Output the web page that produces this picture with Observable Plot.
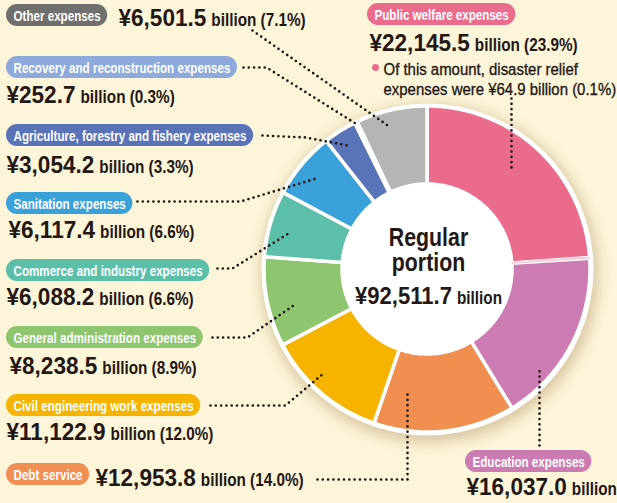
<!DOCTYPE html>
<html><head><meta charset="utf-8">
<script src="https://cdn.jsdelivr.net/npm/d3@7"></script>
<script src="https://cdn.jsdelivr.net/npm/@observablehq/plot@0.6"></script>
<style>
html,body{margin:0;padding:0;background:#fdf5da;}
#chart{width:617px;height:503px;overflow:hidden;}
</style></head><body><div id="chart"></div>
<script>
// ---- data ----
const categories = ["Public welfare expenses", "Education expenses", "Debt service", "Civil engineering work expenses", "General administration expenses", "Commerce and industry expenses", "Sanitation expenses", "Agriculture, forestry and fishery expenses", "Recovery and reconstruction expenses", "Other expenses"];
const amounts = [22145.5, 16037.0, 12953.8, 11122.9, 8238.5, 6088.2, 6117.4, 3054.2, 252.7, 6501.5];
const shares = [23.9, 17.3, 14.0, 12.0, 8.9, 6.6, 6.6, 3.3, 0.3, 7.1];
const disasterReliefAmount = 64.9;
const disasterReliefShare = 0.1;
const totalLabel = "Regular portion";
const totalAmount = 92511.7;
const sliceColors = ["#ea6b8c", "#cc7bb3", "#f08f50", "#f6b400", "#8dc66e", "#5cbfaa", "#3aa1db", "#5a74ba", "#8eaadc", "#b4b5b5"];
const pillColors  = ["#ea6b8c", "#cc7bb3", "#f09055", "#f6b400", "#8dc66e", "#5cbfaa", "#3aa1db", "#5a72b8", "#8eaadc", "#6f6f6f"];
const disasterColor = "#f6c4d1";

// ---- layout (positions only) ----
const cx = 427, cy = 269, rOuter = 163, rInner = 85, rDisk = 166;
const labelLayout = [
  {pillX: 367, pillY: 3,   valueX: 369, valueY: 50},
  {pillX: 465, pillY: 450, valueX: 466, valueY: 494},
  {pillX: 6,   pillY: 463, valueX: 95,  valueY: 485},
  {pillX: 6,   pillY: 394, valueX: 6,   valueY: 439},
  {pillX: 6,   pillY: 326, valueX: 9,   valueY: 373},
  {pillX: 6,   pillY: 259, valueX: 6,   valueY: 304},
  {pillX: 6,   pillY: 192, valueX: 8,   valueY: 237},
  {pillX: 6,   pillY: 124, valueX: 6,   valueY: 172},
  {pillX: 6,   pillY: 56,  valueX: 6,   valueY: 102},
  {pillX: 6,   pillY: 4,   valueX: 118, valueY: 25}
];
const leaderPaths = [
  [[511, 98], [511, 167]],
  [[539, 445], [539, 367]],
  [[317, 479], [407, 479], [407, 392]],
  [[210, 405], [285, 405], [323, 373]],
  [[212, 337], [247, 337], [293, 305]],
  [[217, 268], [232, 268], [288, 233]],
  [[137, 201], [240, 201], [316, 178]],
  [[262, 135], [305, 137], [347, 145]],
  [[243, 67], [266, 67], [355, 123]],
  [[252, 30], [390, 127]]
];

const SANS = "'Liberation Sans', Arial, Helvetica, sans-serif";
const INK = "#231815";
// horizontal condensing per text mark, in mark order (font has no condensed face)
const squeezeOrder = ["pill-text", "num", "unit", "note", "center-title", "center-num", "center-unit"];
const squeeze = {"pill-text": 0.83, "num": 0.94, "unit": 0.85, "note": 0.88, "center-title": 0.82, "center-num": 0.92, "center-unit": 0.85};

const ctx = document.createElement("canvas").getContext("2d");
function tw(text, font, group) { ctx.font = font; return ctx.measureText(text).width * (squeeze[group] || 1); }
const fmtAmt = d3.format(",.1f");
const fmtPct = d3.format(".1f");

// ---- donut slices ----
const pieInput = [
  {key: categories[0], value: amounts[0] - disasterReliefAmount, color: sliceColors[0]},
  {key: "disaster", value: disasterReliefAmount, color: disasterColor},
  ...categories.slice(1).map((c, i) => ({key: c, value: amounts[i + 1], color: sliceColors[i + 1]}))
];
const arcs = d3.pie().sort(null).value(d => d.value)(pieInput);
const arcRows = [];
for (const a of arcs) {
  const steps = Math.max(2, Math.ceil((a.endAngle - a.startAngle) / (Math.PI / 180)));
  for (let k = 0; k <= steps; k++) {
    const t = a.startAngle + (a.endAngle - a.startAngle) * k / steps;
    arcRows.push({key: a.data.key, color: a.data.color,
      x1: cx + rInner * Math.sin(t), y1: cy - rInner * Math.cos(t),
      x2: cx + rOuter * Math.sin(t), y2: cy - rOuter * Math.cos(t)});
  }
}

// ---- labels ----
const PILL_FONT = `bold 14px ${SANS}`;
const NUM_FONT = `bold 24px ${SANS}`;
const pills = categories.map((c, i) => {
  const L = labelLayout[i];
  const w = tw(c, PILL_FONT, "pill-text");
  return {label: c, color: pillColors[i], x1: L.pillX, x2: L.pillX + w + 14, y1: L.pillY, y2: L.pillY + 22, tx: L.pillX + 7, ty: L.pillY + 16};
});
const valueMain = categories.map((c, i) => ({text: "¥" + fmtAmt(amounts[i]), x: labelLayout[i].valueX, y: labelLayout[i].valueY}));
const valueUnit = categories.map((c, i) => ({text: `billion (${fmtPct(shares[i])}%)`, x: labelLayout[i].valueX + tw(valueMain[i].text, NUM_FONT, "num") + 5, y: labelLayout[i].valueY}));
const noteLines = [
  {text: "Of this amount, disaster relief", x: 383, y: 74},
  {text: `expenses were ¥${fmtPct(disasterReliefAmount)} billion (${fmtPct(disasterReliefShare)}%)`, x: 383, y: 94}
];
const leaderRows = leaderPaths.flatMap((p, i) => p.map(([x, y]) => ({id: i, x, y})));

// center label
const cNum = "¥" + fmtAmt(totalAmount);
const cW1 = tw(cNum, `bold 24px ${SANS}`, "center-num"), cW2 = tw("billion", `bold 18px ${SANS}`, "center-unit");
const cStart = cx + 1 - (cW1 + 5 + cW2) / 2;
const centerTitle = totalLabel.split(" ").map((t, i) => ({text: t, x: cx + 1, y: 245 + i * 25}));

const txt = (data, o) => Plot.text(data, {x: "x", y: "y", text: "text", fill: INK, fontFamily: SANS, textAnchor: "start", lineAnchor: "bottom", ...o});

const plot = Plot.plot({
  width: 617, height: 503, margin: 0,
  x: {domain: [0, 617], range: [0, 617], axis: null},
  y: {domain: [0, 503], range: [0, 503], axis: null},
  color: {type: "identity"},
  style: {background: "#fdf5da", overflow: "hidden"},
  marks: [
    Plot.dot([[cx + 2, cy + 4]], {x: d => d[0], y: d => d[1], r: rDisk + 3, fill: "#b59c68", fillOpacity: 0.5}),
    Plot.dot([[cx, cy]], {x: d => d[0], y: d => d[1], r: rDisk, fill: "white"}),
    Plot.area(arcRows.filter(d => d.key !== "disaster"), {x1: "x1", y1: "y1", x2: "x2", y2: "y2", z: "key", fill: "color", stroke: "white", strokeWidth: 3.5}),
    Plot.area(arcRows.filter(d => d.key === "disaster"), {x1: "x1", y1: "y1", x2: "x2", y2: "y2", z: "key", fill: "color", stroke: disasterColor, strokeWidth: 0.8}),
    Plot.line(leaderRows, {x: "x", y: "y", z: "id", stroke: INK, strokeWidth: 2.7, strokeDasharray: "0,5.3", strokeLinecap: "round", strokeLinejoin: "round"}),
    Plot.rect(pills, {x1: "x1", x2: "x2", y1: "y1", y2: "y2", fill: "color", rx: 11}),
    Plot.text(pills, {x: "tx", y: "ty", text: "label", fill: "white", fontSize: 14, fontWeight: "bold", fontFamily: SANS, textAnchor: "start", lineAnchor: "bottom"}),
    txt(valueMain, {fontSize: 24, fontWeight: "bold"}),
    txt(valueUnit, {fontSize: 18, fontWeight: "bold"}),
    Plot.dot([[375, 67]], {x: d => d[0], y: d => d[1], r: 3.5, fill: sliceColors[0]}),
    txt(noteLines, {fontSize: 17, stroke: INK, strokeWidth: 0.35}),
    txt(centerTitle, {fontSize: 26, fontWeight: "bold", textAnchor: "middle"}),
    txt([{text: cNum, x: cStart, y: 303}], {fontSize: 24, fontWeight: "bold"}),
    txt([{text: "billion", x: cStart + cW1 + 5, y: 303}], {fontSize: 18, fontWeight: "bold"})
  ]
});
const dotGroups = plot.querySelectorAll('g[aria-label="dot"]');
if (dotGroups.length) dotGroups[0].style.filter = "blur(7px)";
const textGroups = plot.querySelectorAll('g[aria-label="text"]');
textGroups.forEach((g, gi) => {
  const s = squeeze[squeezeOrder[gi]];
  if (!s) return;
  g.querySelectorAll("text").forEach(t => {
    const tr = t.getAttribute("transform");
    if (tr) t.setAttribute("transform", `${tr} scale(${s},1)`);
    else {
      const x = +(t.getAttribute("x") || 0);
      const y = t.getAttribute("y");
      const isEm = y && String(y).endsWith("em");
      const yn = y && !isEm ? +y : 0;
      t.removeAttribute("x");
      if (y && !isEm) t.removeAttribute("y");
      t.setAttribute("transform", `translate(${x},${yn}) scale(${s},1)`);
    }
  });
});
document.getElementById("chart").appendChild(plot);
</script></body></html>
